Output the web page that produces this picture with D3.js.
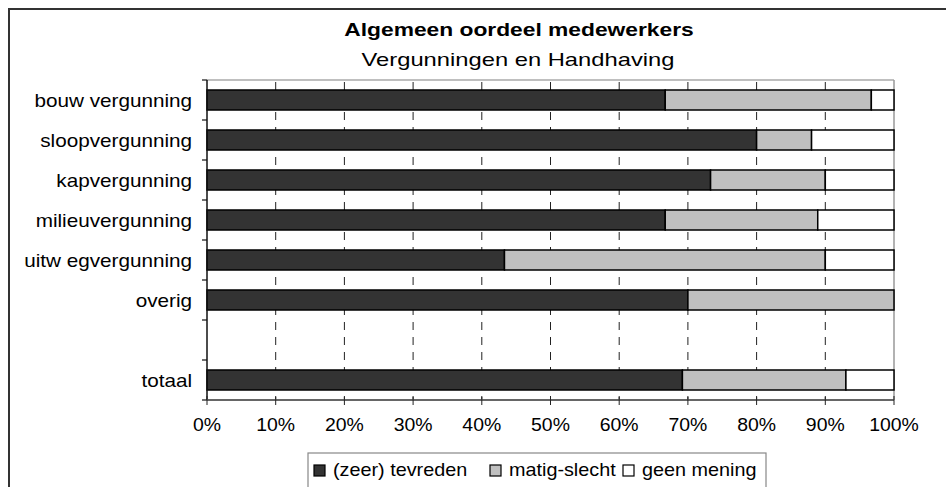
<!DOCTYPE html>
<html>
<head>
<meta charset="utf-8">
<script src="https://cdn.jsdelivr.net/npm/d3@7"></script>
<style>
  body { margin: 0; background: #fff; }
  svg text { font-family: "Liberation Sans", Arial, sans-serif; }
</style>
</head>
<body>
<div id="chart"></div>
<script>
var categories = ["bouw vergunning", "sloopvergunning", "kapvergunning", "milieuvergunning", "uitw egvergunning", "overig", "", "totaal"]
var seriesNames = ["(zeer) tevreden", "matig-slecht", "geen mening"]
var tevreden = [66.7, 80, 73.3, 66.7, 43.3, 70, null, 69.2]
var matig = [30, 8, 16.7, 22.2, 46.7, 30, null, 23.8]
var geenMening = [3.3, 12, 10, 11.1, 10, 0, null, 7]
var xTicks = [0, 10, 20, 30, 40, 50, 60, 70, 80, 90, 100]
var colors = ["#333333", "#c0c0c0", "#ffffff"]

var W = 946, H = 487
var margin = {top: 80, left: 207, right: 52, bottom: 87}
var width = W - margin.left - margin.right,
    height = H - margin.top - margin.bottom

var svg = d3.select("#chart").append("svg")
    .attr("width", W)
    .attr("height", H)

// the source text is drawn wider than Liberation Sans, stretch it a bit
function stretched(sel, x, y, sx, anchor) {
    return sel.append("text")
        .attr("transform", "translate(" + x + "," + y + ") scale(" + sx + ",1)")
        .attr("text-anchor", anchor)
}

// outer frame (runs off the right and bottom)
svg.append("rect")
    .attr("x", 9).attr("y", 9)
    .attr("width", 1000).attr("height", 1000)
    .attr("fill", "none")
    .attr("stroke", "#333")
    .attr("stroke-width", 2)

stretched(svg, 519, 36, 1.2, "middle")
    .style("font-size", "19px")
    .style("font-weight", "bold")
    .text("Algemeen oordeel medewerkers")
stretched(svg, 518, 66, 1.25, "middle")
    .style("font-size", "19px")
    .text("Vergunningen en Handhaving")

var g = svg.append("g")
    .attr("transform", "translate(" + margin.left + "," + margin.top + ")")

var x = d3.scaleLinear().domain([0, 100]).range([0, width])
var y = d3.scaleBand().domain(d3.range(categories.length)).range([0, height]).paddingInner(0.5).paddingOuter(0.25)

// plot frame
g.append("line").attr("x1", 0).attr("x2", width).attr("y1", 0).attr("y2", 0)
    .attr("stroke", "#aaa").attr("stroke-width", 1.5)
g.append("line").attr("x1", width).attr("x2", width).attr("y1", 0).attr("y2", height)
    .attr("stroke", "#999").attr("stroke-width", 1.5)

// dashed gridlines
g.selectAll(".grid")
    .data(xTicks.slice(1, -1))
    .enter().append("line")
    .attr("x1", function(d) { return x(d) })
    .attr("x2", function(d) { return x(d) })
    .attr("y1", 0).attr("y2", height)
    .attr("stroke", "#222")
    .attr("stroke-width", 1)
    .attr("stroke-dasharray", "8,7")
    .attr("stroke-dashoffset", -2)

// stacked bars
var rows = categories.map(function(c, i) {
    return {i: i, vals: [tevreden[i], matig[i], geenMening[i]]}
})
rows.forEach(function(r) {
    if (r.vals[0] == null) return
    var start = 0
    r.vals.forEach(function(v, k) {
        if (v > 0) {
            g.append("rect")
                .attr("x", x(start))
                .attr("y", y(r.i))
                .attr("width", x(start + v) - x(start))
                .attr("height", y.bandwidth())
                .attr("fill", colors[k])
                .attr("stroke", "#000")
                .attr("stroke-width", 1.5)
        }
        start += v
    })
})

// y axis
var yAxis = g.append("g")
yAxis.append("line").attr("x1", 0).attr("x2", 0).attr("y1", 0).attr("y2", height)
    .attr("stroke", "#111").attr("stroke-width", 1.5)
var step = height / categories.length
yAxis.selectAll(".yt")
    .data(d3.range(categories.length + 1))
    .enter().append("line")
    .attr("x1", -5).attr("x2", 0)
    .attr("y1", function(d) { return d * step })
    .attr("y2", function(d) { return d * step })
    .attr("stroke", "#111").attr("stroke-width", 1.2)
categories.forEach(function(c, i) {
    stretched(yAxis, -15, y(i) + y.bandwidth() / 2 + 6.5, 1.15, "end")
        .style("font-size", "18px")
        .text(c)
})

// x axis
var xAxis = g.append("g").attr("transform", "translate(0," + height + ")")
xAxis.append("line").attr("x1", 0).attr("x2", width).attr("y1", 0).attr("y2", 0)
    .attr("stroke", "#666").attr("stroke-width", 2)
xAxis.selectAll(".xt")
    .data(xTicks)
    .enter().append("line")
    .attr("x1", function(d) { return x(d) })
    .attr("x2", function(d) { return x(d) })
    .attr("y1", -4).attr("y2", 5)
    .attr("stroke", "#222").attr("stroke-width", 1)
xTicks.forEach(function(t) {
    stretched(xAxis, x(t), 31, 1.08, "middle")
        .style("font-size", "18px")
        .text(t + "%")
})

// legend
var lg = svg.append("g")
lg.append("rect")
    .attr("x", 308).attr("y", 453)
    .attr("width", 458).attr("height", 60)
    .attr("fill", "#fff")
    .attr("stroke", "#888").attr("stroke-width", 1.2)
var legendX = [314, 490, 623]
seriesNames.forEach(function(s, k) {
    lg.append("rect")
        .attr("x", legendX[k]).attr("y", 465)
        .attr("width", 11).attr("height", 11)
        .attr("fill", colors[k])
        .attr("stroke", "#000").attr("stroke-width", 1.2)
    stretched(lg, legendX[k] + 19, 476, 1.1, "start")
        .style("font-size", "18px")
        .text(s)
})
</script>
</body>
</html>
